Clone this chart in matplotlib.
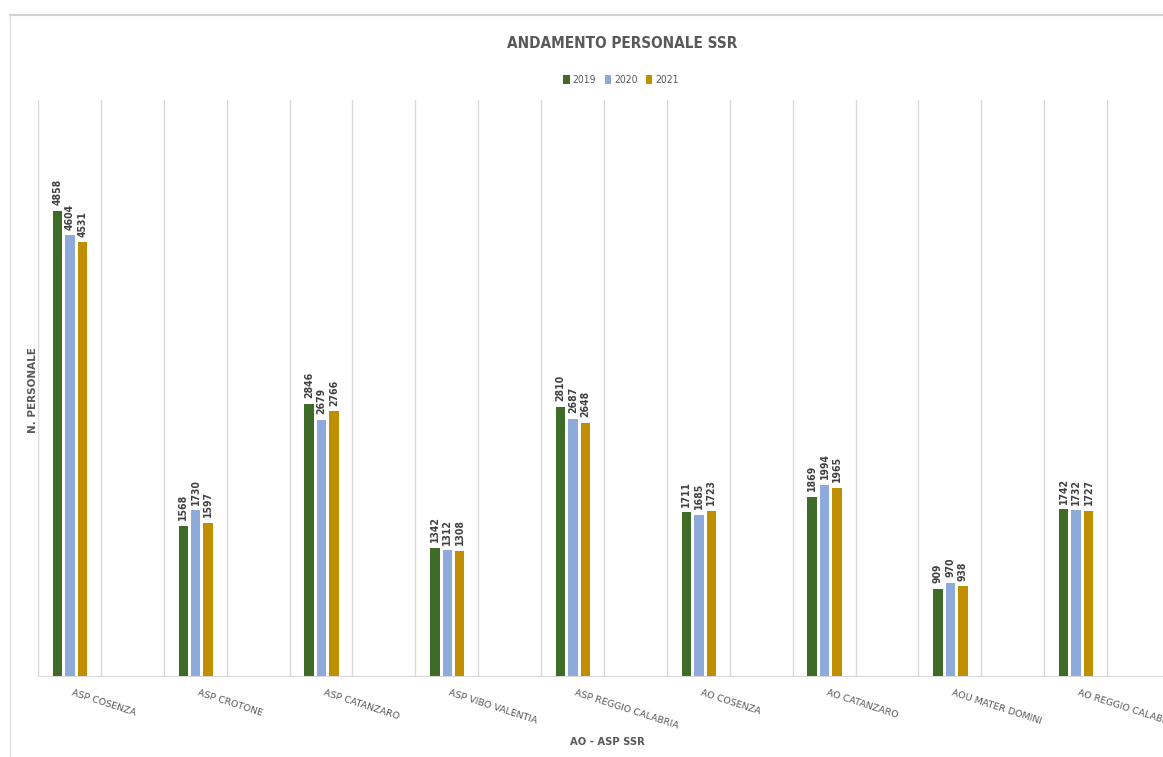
import numpy as np
import matplotlib
matplotlib.use("Agg")
from matplotlib import pyplot as plt
from matplotlib.lines import Line2D

categories = ["ASP COSENZA", "ASP CROTONE", "ASP CATANZARO", "ASP VIBO VALENTIA",
              "ASP REGGIO CALABRIA", "AO COSENZA", "AO CATANZARO",
              "AOU MATER DOMINI", "AO REGGIO CALABRIA"]
years = ["2019", "2020", "2021"]
v2019 = [4858, 1568, 2846, 1342, 2810, 1711, 1869, 909, 1742]
v2020 = [4604, 1730, 2679, 1312, 2687, 1685, 1994, 970, 1732]
v2021 = [4531, 1597, 2766, 1308, 2648, 1723, 1965, 938, 1727]
colors = ["#3e6b27", "#8eaadb", "#bf8f00"]

W, H = 1163, 757
fig = plt.figure(figsize=(W / 100, H / 100), dpi=100)
narrow = ["Liberation Sans Narrow", "DejaVu Sans"]
gray = "#595959"

# axes: plot area from x=38 to ~1170, y=100 to 676 (pixels)
ax = fig.add_axes([38 / W, (H - 676) / H, (1170 - 38) / W, 576 / H])
x = np.arange(len(categories))
offsets = [-0.345, -0.246, -0.147]
width = 0.075
for vals, off, col, yr in zip([v2019, v2020, v2021], offsets, colors, years):
    bars = ax.bar(x + off, vals, width, color=col, label=yr, zorder=3)
    for b, v in zip(bars, vals):
        ax.text(b.get_x() + b.get_width() / 2, v + 60, str(v), rotation=90,
                ha="center", va="bottom", fontsize=7.5, fontweight="bold",
                color="#404040", fontstretch="condensed")

ax.set_xlim(-0.5, 8.5)
ax.set_ylim(0, 6020)
ax.set_xticks(np.arange(-0.5, 9, 0.5), minor=True)
ax.set_xticks([])
ax.set_yticks([])
ax.grid(True, which="minor", axis="x", color="#d9d9d9", lw=1, zorder=0)
ax.tick_params(which="both", length=0)
for s in ["top", "left", "right"]:
    ax.spines[s].set_visible(False)
ax.spines["bottom"].set_color("#d9d9d9")

for i, c in enumerate(categories):
    ax.text(i - 0.22, -130, c, rotation=-18, rotation_mode="anchor",
            ha="left", va="top", fontsize=6.8, color=gray, family=narrow)

fig.text(622 / W, 1 - 43 / H, "ANDAMENTO PERSONALE SSR", ha="center", va="center",
         fontsize=11, fontweight="bold", color=gray, family=narrow,
         fontstretch="condensed")
fig.text(607 / W, 1 - 742 / H, "AO - ASP SSR", ha="center", va="center",
         fontsize=8, fontweight="bold", color=gray, family=narrow,
         fontstretch="condensed")
fig.text(33 / W, 1 - 390 / H, "N. PERSONALE", ha="center", va="center",
         rotation=90, fontsize=7.5, fontweight="bold", color=gray)

handles, labels = ax.get_legend_handles_labels()
leg = fig.legend(handles, labels, loc="center", bbox_to_anchor=(621 / W, 1 - 80 / H),
                 ncol=3, frameon=False, handlelength=0.6, handleheight=0.9,
                 handletextpad=0.3, columnspacing=0.8,
                 prop={"family": narrow, "size": 7.5, "stretch": "condensed"})
for t in leg.get_texts():
    t.set_color(gray)

# outer frame of the spreadsheet
fig.add_artist(Line2D([10 / W, 1], [1 - 15 / H, 1 - 15 / H], color="#d0d0d0", lw=1.5))
fig.add_artist(Line2D([10 / W, 10 / W], [0, 1 - 15 / H], color="#e0e0e0", lw=1))

fig.savefig("out.png", dpi=100, facecolor="white")
